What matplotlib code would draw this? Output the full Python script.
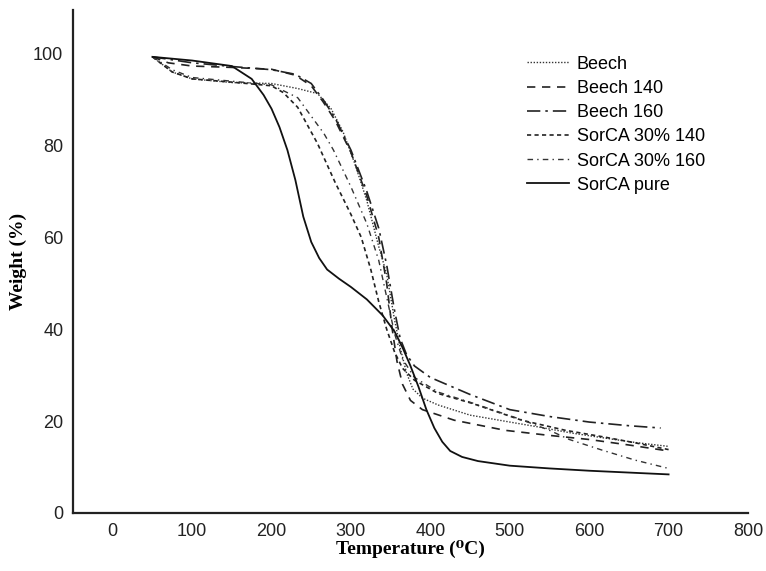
import matplotlib
matplotlib.use("Agg")
import matplotlib.pyplot as plt

# TGA curves
beech_t = [50, 75, 100, 150, 200, 233, 258, 275, 290, 305, 320, 335, 345, 355, 362, 370, 378, 390, 410, 450, 500, 537, 578, 620, 660, 700]
beech_w = [99.3, 96, 94.5, 93.7, 93.5, 92.4, 91.3, 88, 83, 76, 68, 58, 52, 42, 36, 30.5, 27, 25, 23.5, 21.3, 19.8, 18.7, 17.4, 16.3, 15.3, 14.5]

beech140_t = [50, 70, 100, 150, 200, 230, 250, 265, 280, 300, 320, 335, 345, 352, 358, 365, 375, 390, 430, 494, 544, 600, 650, 700]
beech140_w = [99.3, 98, 97.3, 97, 96.6, 95.3, 93, 89.5, 85.5, 78.5, 69, 60, 50, 40, 33, 28, 24.5, 22.5, 20.2, 18, 17, 16, 14.8, 13.5]

beech160_t = [50, 100, 150, 200, 230, 250, 265, 280, 300, 320, 335, 345, 355, 362, 370, 380, 400, 450, 500, 550, 600, 650, 690]
beech160_w = [99.3, 98, 97.2, 96.5, 95.5, 93.5, 90, 86, 79, 70, 62, 54, 44, 38, 34.5, 32, 29.5, 25.8, 22.5, 21, 19.8, 19, 18.5]

sorca140_t = [50, 75, 100, 150, 200, 215, 233, 258, 280, 300, 313, 325, 335, 345, 355, 365, 380, 410, 452, 515, 570, 620, 660, 700]
sorca140_w = [99.3, 96, 94.5, 93.8, 93, 91.5, 88.3, 80.4, 72, 65, 60, 53, 46, 40, 35, 31.5, 28.9, 26, 23.9, 20.2, 18, 16.5, 15.2, 13.8]

sorca160_t = [50, 75, 100, 150, 200, 233, 266, 278, 300, 320, 335, 345, 355, 365, 380, 410, 452, 515, 550, 575, 616, 658, 700]
sorca160_w = [99.3, 96.5, 94.8, 94, 93.2, 90.4, 82.6, 79, 71, 63, 55, 47, 39, 33.5, 29.5, 26.3, 24, 20.3, 18, 16, 13.7, 11.5, 9.7]

pure_t = [50, 100, 150, 175, 190, 200, 210, 220, 230, 240, 250, 260, 270, 285, 300, 320, 340, 355, 365, 375, 385, 395, 405, 415, 425, 440, 460, 500, 550, 600, 650, 700]
pure_w = [99.3, 98.5, 97.3, 94.5, 91, 88, 84, 79, 72.5, 64.5, 59, 55.5, 53, 51, 49.2, 46.5, 43, 39.5, 36, 32, 27.5, 22.5, 18.5, 15.5, 13.5, 12.2, 11.3, 10.3, 9.7, 9.2, 8.8, 8.4]

xticks = [0, 100, 200, 300, 400, 500, 600, 700, 800]
yticks = [0, 20, 40, 60, 80, 100]

plt.rcParams['font.family'] = ['Liberation Sans', 'DejaVu Sans']

fig = plt.figure(figsize=(7.66, 5.71), dpi=100)
ax = fig.add_axes([0.0953, 0.1016, 0.8812, 0.8809])

ax.plot(beech_t, beech_w, color='#333333', lw=1.0, ls=(0, (1, 1.2)), label='Beech')
ax.plot(beech140_t, beech140_w, color='#222222', lw=1.2, ls=(0, (5, 4)), label='Beech 140')
ax.plot(beech160_t, beech160_w, color='#222222', lw=1.2, ls=(0, (8, 3, 1.5, 3)), label='Beech 160')
ax.plot(sorca140_t, sorca140_w, color='#222222', lw=1.2, ls=(0, (2.5, 2)), label='SorCA 30% 140')
ax.plot(sorca160_t, sorca160_w, color='#333333', lw=1.0, ls=(0, (4, 3, 1, 3)), label='SorCA 30% 160')
ax.plot(pure_t, pure_w, color='#111111', lw=1.3, label='SorCA pure')

ax.set_xlim(-50, 800)
ax.set_ylim(0, 109.5)
ax.set_xticks(xticks)
ax.set_yticks(yticks)
ax.tick_params(length=0, labelsize=13, colors='#222222')
ax.tick_params(axis='y', pad=7)
ax.tick_params(axis='x', pad=7)

for s in ['top', 'right']:
    ax.spines[s].set_visible(False)
for s in ['left', 'bottom']:
    ax.spines[s].set_linewidth(1.6)
    ax.spines[s].set_color('#222222')

ax.set_xlabel('Temperature (⁰C)', family=['Liberation Serif', 'DejaVu Serif'],
              fontweight='bold', fontsize=14, labelpad=0)
ax.set_ylabel('Weight (%)', family=['Liberation Serif', 'DejaVu Serif'],
              fontweight='bold', fontsize=14)
ax.yaxis.set_label_coords(-0.068, 0.5)

ax.legend(loc='upper left', bbox_to_anchor=(0.667, 0.931), bbox_transform=fig.transFigure,
          frameon=False, fontsize=13, handlelength=2.3, labelspacing=0.40, handletextpad=0.45)

fig.savefig('out.png', dpi=100)
